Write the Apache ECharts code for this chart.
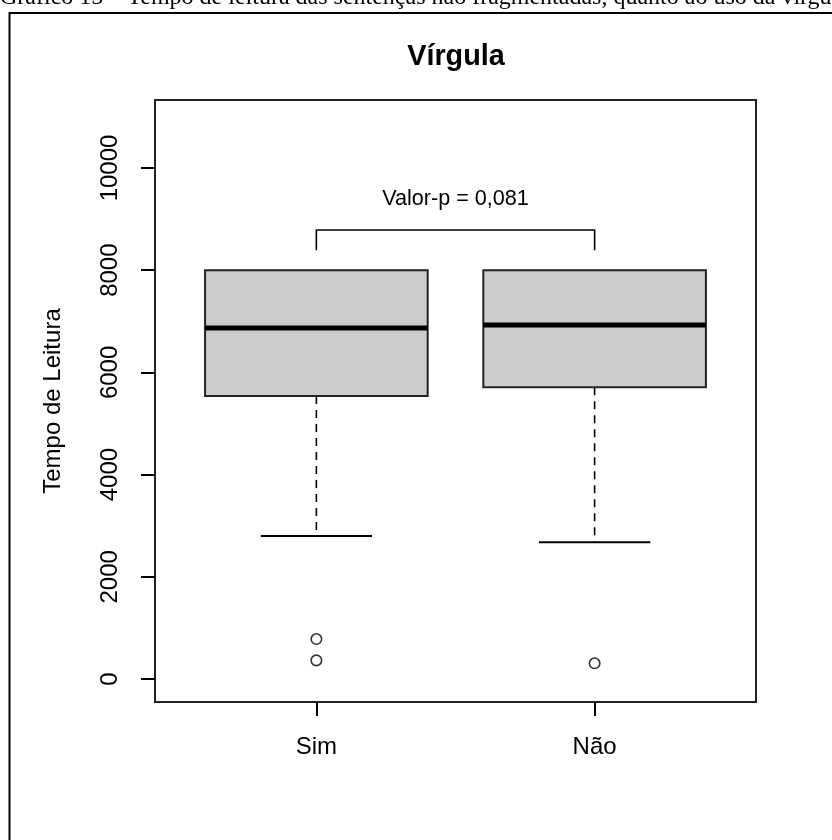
<!DOCTYPE html>
<html>
<head>
<meta charset="utf-8">
<script src="https://cdn.jsdelivr.net/npm/echarts@6/dist/echarts.min.js"></script>
<style>
html,body{margin:0;padding:0;background:#fff;}
#chart{width:832px;height:840px;}
</style>
</head>
<body>
<div id="chart"></div>
<script>
// ---- data ----
const captionText = 'Gráfico 15 – Tempo de leitura das sentenças não fragmentadas, quanto ao uso da vírgula';
const titleText = 'Vírgula';
const yAxisName = 'Tempo de Leitura';
const categories = ['Sim', 'Não'];
const whiskerLow = [2800, 2675];
const q1 = [5540, 5710];
const median = [6870, 6925];
const q3 = [8000, 8000];
const whiskerHigh = [8000, 8000];
const outlierGroup = [0, 0, 1];
const outlierValue = [782, 365, 307];
const yTicks = [0, 2000, 4000, 6000, 8000, 10000];
const pValueLabel = 'Valor-p = 0,081';
const bracketTop = 8785;
const bracketLeg = 8390;
const pLabelValue = 9390;

// ---- chart ----
const FONT = 'Liberation Sans, Arial, sans-serif';
const chart = echarts.init(document.getElementById('chart'), null, {renderer: 'canvas'});

const boxData = categories.map((c, i) => [i + 1, whiskerLow[i], q1[i], median[i], q3[i], whiskerHigh[i]]);
const outlierData = outlierGroup.map((g, i) => [g + 1, outlierValue[i]]);

const BOXW = 0.4, STAPLE = 0.2;

function renderBox(params, api) {
  const x = api.value(0);
  const lo = api.value(1), a = api.value(2), m = api.value(3), b = api.value(4), hi = api.value(5);
  const pTL = api.coord([x - BOXW, b]);
  const pBR = api.coord([x + BOXW, a]);
  const pMedL = api.coord([x - BOXW, m]);
  const pMedR = api.coord([x + BOXW, m]);
  const pLo = api.coord([x, lo]);
  const pA = api.coord([x, a]);
  const pB = api.coord([x, b]);
  const pHi = api.coord([x, hi]);
  const sL = api.coord([x - STAPLE, lo]);
  const sR = api.coord([x + STAPLE, lo]);
  const hL = api.coord([x - STAPLE, hi]);
  const hR = api.coord([x + STAPLE, hi]);
  const children = [
    {type: 'line', shape: {x1: pA[0], y1: pA[1], x2: pLo[0], y2: pLo[1]}, style: {stroke: '#000', lineWidth: 1.6, lineDash: [8, 6]}},
    {type: 'line', shape: {x1: sL[0], y1: sL[1], x2: sR[0], y2: sR[1]}, style: {stroke: '#000', lineWidth: 2}},
    {type: 'rect', shape: {x: pTL[0], y: pTL[1], width: pBR[0] - pTL[0], height: pBR[1] - pTL[1]}, style: {fill: '#cccccc', stroke: '#222', lineWidth: 2}},
    {type: 'line', shape: {x1: pMedL[0], y1: pMedL[1], x2: pMedR[0], y2: pMedR[1]}, style: {stroke: '#000', lineWidth: 5}}
  ];
  if (hi > b) {
    children.push({type: 'line', shape: {x1: pB[0], y1: pB[1], x2: pHi[0], y2: pHi[1]}, style: {stroke: '#000', lineWidth: 1.6, lineDash: [8, 6]}});
    children.push({type: 'line', shape: {x1: hL[0], y1: hL[1], x2: hR[0], y2: hR[1]}, style: {stroke: '#000', lineWidth: 2}});
  }
  return {type: 'group', children: children};
}

function renderBracket(params, api) {
  const l1 = api.coord([1, bracketLeg]);
  const t1 = api.coord([1, bracketTop]);
  const t2 = api.coord([2, bracketTop]);
  const l2 = api.coord([2, bracketLeg]);
  const tp = api.coord([1.5, pLabelValue]);
  return {type: 'group', children: [
    {type: 'polyline', shape: {points: [l1, t1, t2, l2]}, style: {stroke: '#000', lineWidth: 1.6, fill: null}},
    {type: 'text', x: tp[0], y: tp[1], style: {text: pValueLabel, font: '21.6px ' + FONT, fill: '#000', align: 'center', verticalAlign: 'middle'}}
  ]};
}

const option = {
  animation: false,
  backgroundColor: '#fff',
  grid: {left: 155, top: 100, width: 601, height: 602, show: true, borderColor: '#222', borderWidth: 2, backgroundColor: 'transparent'},
  xAxis: {
    type: 'value', min: 0.42, max: 2.58, position: 'bottom',
    axisLine: {show: false, onZero: false},
    splitLine: {show: false},
    axisTick: {show: true, length: 14, lineStyle: {color: '#000', width: 2}, customValues: [1, 2]},
    axisLabel: {customValues: [1, 2], margin: 33, fontSize: 24, fontFamily: FONT, color: '#000',
      formatter: v => categories[Math.round(v) - 1] || ''}
  },
  yAxis: {
    type: 'value', min: -450, max: 11330, position: 'left',
    axisLine: {show: false, onZero: false},
    splitLine: {show: false},
    axisTick: {show: true, length: 14, lineStyle: {color: '#000', width: 2}, customValues: yTicks},
    axisLabel: {customValues: yTicks, rotate: 90, margin: 33, fontSize: 24, fontFamily: FONT, color: '#000',
      formatter: v => String(v)}
  },
  series: [
    {type: 'custom', renderItem: renderBox, data: boxData, clip: false, z: 2},
    {type: 'scatter', data: outlierData, symbol: 'circle', symbolSize: 10.5,
      itemStyle: {color: '#fff', borderColor: '#000', borderWidth: 1.6}, z: 3},
    {type: 'custom', renderItem: renderBracket, data: [[1.5, bracketTop]], clip: false, z: 2}
  ],
  graphic: [
    {type: 'rect', shape: {x: 9.5, y: 13, width: 900, height: 900}, style: {fill: null, stroke: '#000', lineWidth: 2}, z: 10},
    {type: 'text', x: 0, y: -2, style: {text: captionText, font: '24px Liberation Serif, Times New Roman, serif', fill: '#000', align: 'left', verticalAlign: 'middle'}},
    {type: 'text', x: 456, y: 57, style: {text: titleText, font: 'bold 28.8px ' + FONT, fill: '#000', align: 'center', verticalAlign: 'middle'}},
    {type: 'text', x: 53, y: 401, rotation: Math.PI / 2, style: {text: yAxisName, font: '24px ' + FONT, fill: '#000', align: 'center', verticalAlign: 'middle'}}
  ]
};
chart.setOption(option);
</script>
</body>
</html>
